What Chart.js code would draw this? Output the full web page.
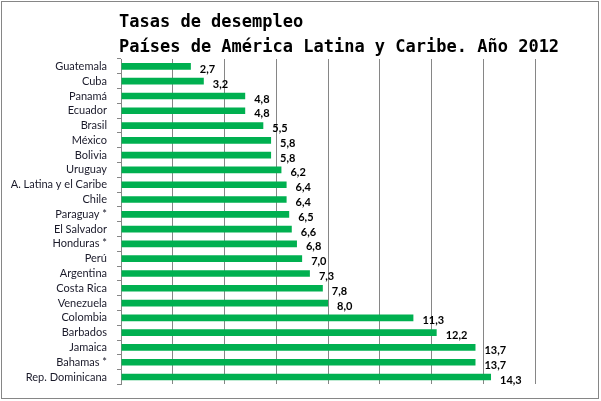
<!DOCTYPE html>
<html>
<head>
<meta charset="utf-8">
<script src="https://cdn.jsdelivr.net/npm/chart.js@4"></script>
<style>
  html, body { margin: 0; padding: 0; background: #fff; }
  #wrap { width: 601px; height: 401px; }
</style>
</head>
<body>
<div id="wrap"><canvas id="chart"></canvas></div>
<script>
// Title lines
const titleLines = ['Tasas de desempleo', 'Países de América Latina y Caribe. Año 2012'];
// Countries (top to bottom)
const countries = ['Guatemala', 'Cuba', 'Panamá', 'Ecuador', 'Brasil', 'México', 'Bolivia', 'Uruguay',
    'A. Latina y el Caribe', 'Chile', 'Paraguay *', 'El Salvador', 'Honduras *', 'Perú', 'Argentina',
    'Costa Rica', 'Venezuela', 'Colombia', 'Barbados', 'Jamaica', 'Bahamas *', 'Rep. Dominicana'];
// Unemployment rate (%)
const rates = [2.7, 3.2, 4.8, 4.8, 5.5, 5.8, 5.8, 6.2, 6.4, 6.4, 6.5, 6.6, 6.8, 7.0, 7.3, 7.8, 8.0, 11.3, 12.2, 13.7, 13.7, 14.3];
// Axis range
const axisMin = 0;
const axisMax = 16;
const axisStep = 2;

// Frame around the whole picture and title text
const framePlugin = {
    id: 'frame',
    beforeDraw(chart) {
        const ctx = chart.ctx;
        ctx.save();
        ctx.fillStyle = '#fff';
        ctx.fillRect(0, 0, chart.width, chart.height);
        ctx.strokeStyle = '#868686';
        ctx.lineWidth = 1;
        ctx.strokeRect(1.5, 1.5, chart.width - 4, chart.height - 4);
        ctx.restore();
    },
    afterDraw(chart) {
        const ctx = chart.ctx;
        ctx.save();
        ctx.fillStyle = '#000';
        ctx.font = 'bold 17px "DejaVu Sans Mono"';
        ctx.textBaseline = 'alphabetic';
        ctx.fillText(titleLines[0], chart.chartArea.left - 2, 27);
        ctx.fillText(titleLines[1], chart.chartArea.left - 2, 52);
        ctx.restore();
    }
};

// Value labels next to each bar
const valueLabels = {
    id: 'valueLabels',
    afterDatasetsDraw(chart) {
        const ctx = chart.ctx;
        const meta = chart.getDatasetMeta(0);
        ctx.save();
        ctx.font = 'bold 11px Lato';
        ctx.fillStyle = '#000';
        ctx.textBaseline = 'middle';
        meta.data.forEach((bar, i) => {
            const txt = rates[i].toFixed(1).replace('.', ',');
            ctx.fillText(txt, bar.x + 9, bar.y + 3);
        });
        ctx.restore();
    }
};

new Chart(document.getElementById('chart'), {
    type: 'bar',
    data: {
        labels: countries,
        datasets: [{
            data: rates,
            backgroundColor: '#00b050',
            borderWidth: 0,
            barPercentage: 0.45,
            categoryPercentage: 1.0
        }]
    },
    options: {
        indexAxis: 'y',
        responsive: true,
        maintainAspectRatio: false,
        animation: false,
        devicePixelRatio: 1,
        layout: { padding: { left: 2, right: 66, top: 59, bottom: 16 } },
        plugins: {
            legend: { display: false },
            title: { display: false },
            tooltip: { enabled: false }
        },
        scales: {
            x: {
                min: axisMin,
                max: axisMax,
                ticks: { display: false, stepSize: axisStep },
                grid: { color: '#868686', drawTicks: false },
                border: { display: false }
            },
            y: {
                afterFit(scale) { scale.width = 119; },
                ticks: {
                    autoSkip: false,
                    color: '#1a1a2a',
                    font: { family: 'Lato', size: 11 },
                    padding: 10
                },
                grid: { drawOnChartArea: false, offset: true, tickLength: 4, color: '#868686' },
                border: { color: '#868686' }
            }
        }
    },
    plugins: [framePlugin, valueLabels]
});
</script>
</body>
</html>
